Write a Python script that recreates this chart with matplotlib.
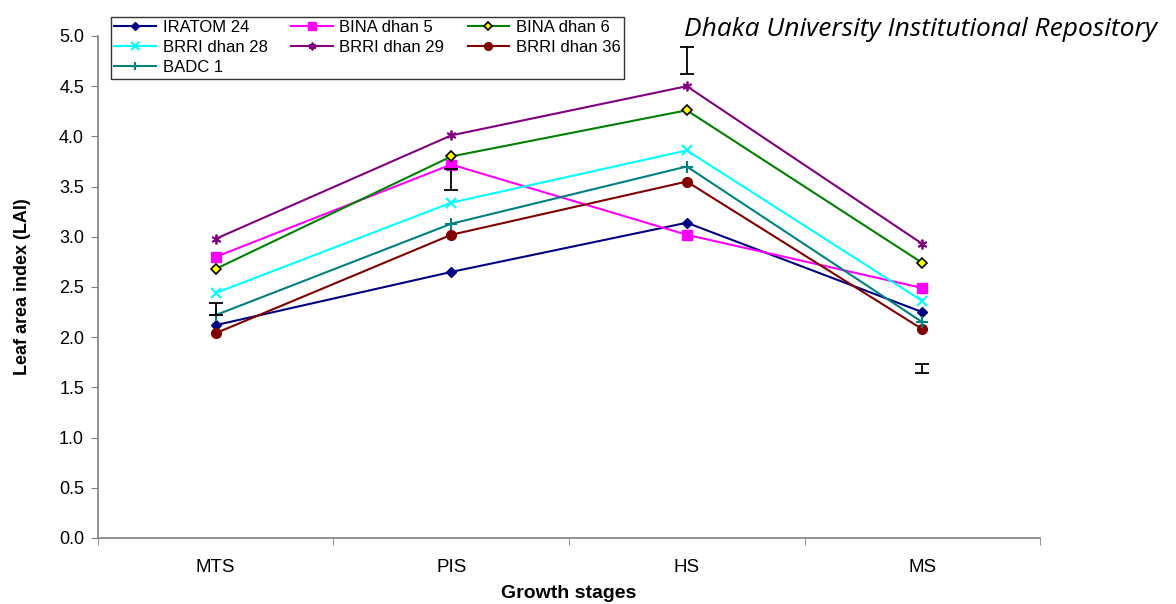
import numpy as np
import matplotlib
matplotlib.use("Agg")
import matplotlib.pyplot as plt

plt.rcParams['font.family'] = ['Liberation Sans', 'DejaVu Sans']

# growth stages on the x axis
stages = ['MTS', 'PIS', 'HS', 'MS']

# leaf area index per variety
iratom_24 = [2.12, 2.65, 3.14, 2.25]
bina_dhan_5 = [2.80, 3.72, 3.02, 2.49]
bina_dhan_6 = [2.68, 3.80, 4.26, 2.74]
brri_dhan_28 = [2.44, 3.34, 3.86, 2.36]
brri_dhan_29 = [2.98, 4.01, 4.50, 2.93]
brri_dhan_36 = [2.04, 3.02, 3.55, 2.08]
badc_1 = [2.22, 3.13, 3.70, 2.15]

# LSD bars (centre, half length)
lsd_mid = [2.28, 3.575, 4.755, 1.685]
lsd_half = [0.06, 0.105, 0.135, 0.045]

fig = plt.figure(figsize=(11.76, 6.04), dpi=100)
ax = fig.add_axes([0.0833, 0.1093, 0.8011, 0.8311])

x = np.arange(len(stages))

series = [
    ('IRATOM 24', iratom_24, dict(color='#000080', marker='D', ms=5, mfc='#000080', mec='#000080')),
    ('BINA dhan 5', bina_dhan_5, dict(color='#FF00FF', marker='s', ms=6.5, mfc='#FF00FF', mec='#FF00FF')),
    ('BINA dhan 6', bina_dhan_6, dict(color='#008000', marker='D', ms=5, mfc='#FFFF00', mec='black', mew=1.2)),
    ('BRRI dhan 28', brri_dhan_28, dict(color='#00FFFF', marker='x', ms=7, mew=1.5)),
    ('BRRI dhan 29', brri_dhan_29, dict(color='#800080', marker=(6, 2, 0), ms=7, mew=1.3)),
    ('BRRI dhan 36', brri_dhan_36, dict(color='#800000', marker='o', ms=7, mfc='#800000', mec='#800000')),
    ('BADC 1', badc_1, dict(color='#008080', marker='+', ms=8, mew=1.5)),
]

lines = []
for name, vals, st in series:
    ln, = ax.plot(x, vals, lw=1.5, label=name, **st)
    lines.append(ln)

ax.errorbar(x, lsd_mid, yerr=lsd_half, fmt='none', ecolor='black',
            elinewidth=1.3, capsize=5, capthick=1.3)

ax.set_xlim(-0.5, 3.5)
ax.set_ylim(0, 5.0)
ax.set_yticks(np.arange(0, 5.01, 0.5))
ax.set_yticklabels(['%.1f' % v for v in np.arange(0, 5.01, 0.5)])
ax.set_xticks(x)
ax.set_xticks(np.arange(-0.5, 3.6, 1), minor=True)
ax.set_xticklabels(stages)
ax.tick_params(axis='x', which='major', length=0, pad=15, labelsize=13.5)
ax.tick_params(axis='x', which='minor', length=5, direction='out', color='#808080')
ax.tick_params(axis='y', length=5, direction='out', color='#808080', labelsize=13, pad=5)

for s in ['top', 'right']:
    ax.spines[s].set_visible(False)
for s in ['left', 'bottom']:
    ax.spines[s].set_color('#808080')
    ax.spines[s].set_linewidth(1.2)

fig.text(569 / 1176, 1 - 593 / 604, 'Growth stages', ha='center', va='center',
         fontsize=14, fontweight='bold')
ax.set_ylabel('Leaf area index (LAI)', fontsize=13, fontweight='bold', labelpad=20)

# row-major order for a 3-column legend
order = [0, 3, 6, 1, 4, 2, 5]
leg = fig.legend([lines[i] for i in order], [series[i][0] for i in order],
                 loc='upper left', bbox_to_anchor=(111 / 1176, 1 - 17 / 604),
                 ncol=3, fontsize=12, frameon=True, fancybox=False,
                 edgecolor='black', borderpad=0.2, labelspacing=0.3,
                 handlelength=2.5, handletextpad=0.4, columnspacing=1.4,
                 borderaxespad=0, markerscale=0.8)
leg.get_frame().set_linewidth(1.0)

fig.text(0.984, 1 - 30 / 604, 'Dhaka University Institutional Repository',
         ha='right', va='center', fontsize=19, style='italic',
         family=['Open Sans', 'DejaVu Sans'])

fig.savefig('out.png', dpi=100)
